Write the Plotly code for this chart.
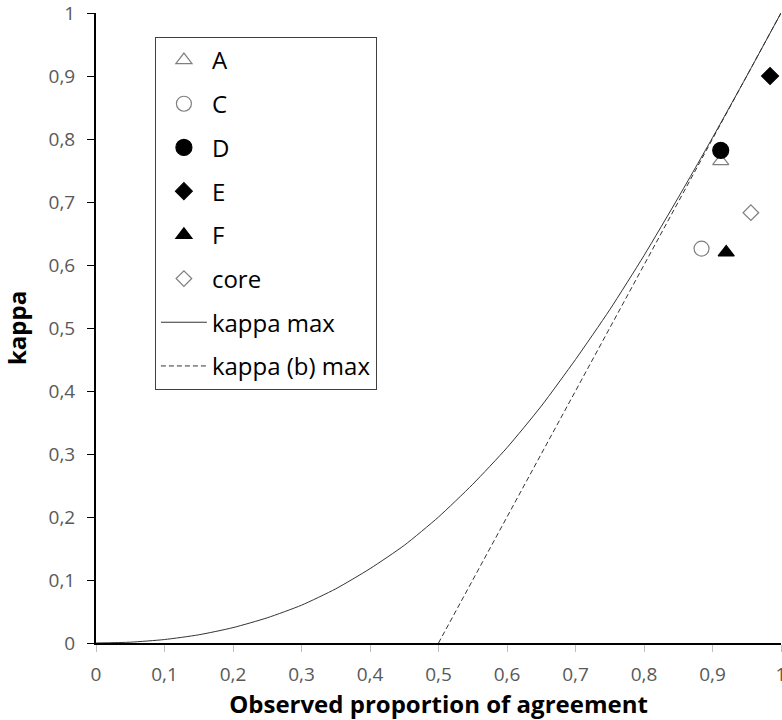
import plotly.graph_objects as go

# Observed proportion of agreement (x) and kappa (y) for each rater/set
series_names = ["A", "C", "D", "E", "F", "core"]
series_x = [0.912, 0.884, 0.912, 0.984, 0.920, 0.956]
series_y = [0.765, 0.626, 0.782, 0.900, 0.620, 0.683]
series_symbols = ["triangle-up-open", "circle-open", "circle", "diamond", "triangle-up", "diamond-open"]
series_colors = ["#7f7f7f", "#7f7f7f", "#000000", "#000000", "#000000", "#7f7f7f"]
series_sizes = [14, 15, 16, 13, 14, 12]

# kappa max curve sampled along the observed agreement
kmax_x = [0.0, 0.05, 0.10, 0.15, 0.20, 0.25, 0.30, 0.35, 0.40, 0.45, 0.50,
          0.55, 0.60, 0.65, 0.70, 0.75, 0.80, 0.85, 0.90, 0.95, 1.0]
kmax_y = [0.0, 0.0013, 0.0055, 0.013, 0.0244, 0.040, 0.060, 0.086, 0.118, 0.155, 0.200,
          0.252, 0.310, 0.376, 0.450, 0.529, 0.615, 0.707, 0.802, 0.900, 1.0]

# kappa (b) max line
kbmax_x = [0.5, 1.0]
kbmax_y = [0.0, 1.0]

tick_vals = [0.0, 0.1, 0.2, 0.3, 0.4, 0.5, 0.6, 0.7, 0.8, 0.9, 1.0]
tick_text = ["0", "0,1", "0,2", "0,3", "0,4", "0,5", "0,6", "0,7", "0,8", "0,9", "1"]

fig = go.Figure()

for i, name in enumerate(series_names):
    fig.add_trace(go.Scatter(
        x=[series_x[i]], y=[series_y[i]], mode="markers", name=name,
        legendgroup=name,
        marker=dict(symbol=series_symbols[i], size=series_sizes[i],
                    color=series_colors[i],
                    line=dict(color=series_colors[i], width=1.2)),
    ))

fig.add_trace(go.Scatter(
    x=kmax_x, y=kmax_y, mode="lines", name="kappa max", legendgroup="kmax",
    line=dict(color="#333333", width=1, shape="spline", smoothing=0.6),
))
fig.add_trace(go.Scatter(
    x=kbmax_x, y=kbmax_y, mode="lines", name="kappa (b) max", legendgroup="kbmax",
    line=dict(color="#333333", width=1, dash="5px,3px"),
))

tick_font = dict(family="Open Sans, sans-serif", size=19, color="#595959")
title_font = dict(family="Open Sans, sans-serif", size=24, color="#000000")

fig.update_layout(
    width=782, height=720,
    margin=dict(l=96, r=1, t=13, b=77),
    paper_bgcolor="white", plot_bgcolor="white",
    showlegend=True,
    legend=dict(
        x=0.086, y=0.962, xanchor="left", yanchor="top",
        bgcolor="white", bordercolor="#404040", borderwidth=1,
        font=dict(family="Open Sans, sans-serif", size=24, color="#000000"),
        tracegroupgap=9.5, itemwidth=46,
    ),
    xaxis=dict(
        range=[0, 1], tickvals=tick_vals, ticktext=tick_text,
        showgrid=False, zeroline=False, automargin=False,
        showline=True, linecolor="#000000", linewidth=2,
        ticks="outside", ticklen=7, tickcolor="#bfbfbf", tickwidth=1,
        tickfont=tick_font, ticklabelstandoff=6, ticklabeloverflow="allow",
        title=dict(text="<b>Observed proportion of agreement</b>",
                   font=title_font, standoff=10),
    ),
    yaxis=dict(
        range=[0, 1], tickvals=tick_vals, ticktext=tick_text,
        showgrid=False, zeroline=False, automargin=False,
        showline=True, linecolor="#000000", linewidth=2,
        ticks="outside", ticklen=7, tickcolor="#000000", tickwidth=1,
        tickfont=tick_font, ticklabelstandoff=8, ticklabeloverflow="allow",
        title=dict(text="<b>kappa</b>", font=title_font, standoff=16),
    ),
)

fig.write_html("out.html")
